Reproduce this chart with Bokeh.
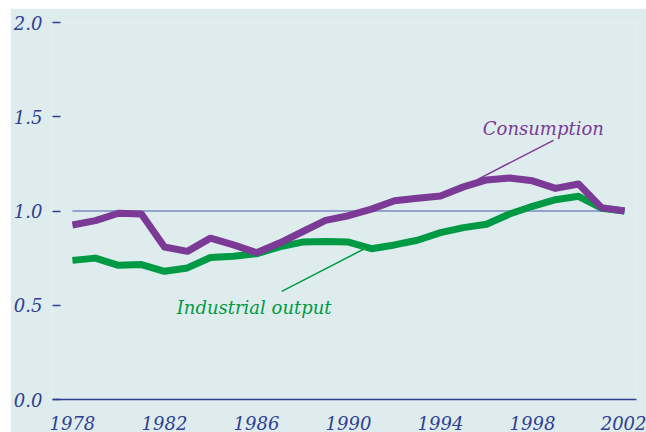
from bokeh.plotting import figure
from bokeh.models import Range1d, FixedTicker, Label, CustomJSTickFormatter
from bokeh.embed import file_html
from bokeh.resources import INLINE

years = list(range(1978, 2003))
consumption = [0.926, 0.949, 0.988, 0.984, 0.809, 0.786, 0.856, 0.820, 0.779, 0.830,
               0.890, 0.950, 0.975, 1.010, 1.054, 1.068, 1.080, 1.128, 1.165, 1.175,
               1.160, 1.120, 1.143, 1.018, 1.000]
industrial = [0.738, 0.750, 0.712, 0.716, 0.680, 0.698, 0.753, 0.760, 0.773, 0.810,
              0.835, 0.838, 0.835, 0.800, 0.820, 0.845, 0.885, 0.912, 0.930, 0.984,
              1.025, 1.060, 1.078, 1.015, 1.000]
y_ticks = [0.0, 0.5, 1.0, 1.5, 2.0]
x_ticks = [1978, 1982, 1986, 1990, 1994, 1998, 2002]

BG = "#deeced"
NAVY = "#2e3f94"
PURPLE = "#7b3a96"
GREEN = "#009a44"
FONT = "DejaVu Serif"

p = figure(width=636, height=424, output_backend="svg", toolbar_location=None,
           x_range=Range1d(1977.134, 2002.52), y_range=Range1d(0, 2.0),
           min_border_left=40, min_border_right=10, min_border_top=14, min_border_bottom=30)
p.styles = {"margin-left": "10px", "margin-top": "8px"}
p.background_fill_color = BG
p.border_fill_color = BG
p.outline_line_color = None
p.xgrid.visible = False
p.ygrid.visible = False

p.yaxis.ticker = FixedTicker(ticks=y_ticks)
p.yaxis.formatter = CustomJSTickFormatter(code="return tick.toFixed(1);")
p.yaxis.axis_line_color = None
p.yaxis.major_tick_in = 8
p.yaxis.major_tick_out = 0
p.yaxis.major_tick_line_color = NAVY
p.yaxis.major_tick_line_width = 1.5
p.yaxis.minor_tick_line_color = None
p.yaxis.major_label_standoff = 10
p.yaxis.major_label_text_font = FONT
p.yaxis.major_label_text_font_style = "italic"
p.yaxis.major_label_text_font_size = "18px"
p.yaxis.major_label_text_color = NAVY

p.xaxis.ticker = FixedTicker(ticks=x_ticks)
p.xaxis.axis_line_color = NAVY
p.xaxis.axis_line_width = 1.5
p.xaxis.major_tick_line_color = None
p.xaxis.minor_tick_line_color = None
p.xaxis.major_label_standoff = 10
p.xaxis.major_label_text_font = FONT
p.xaxis.major_label_text_font_style = "italic"
p.xaxis.major_label_text_font_size = "18px"
p.xaxis.major_label_text_color = NAVY

p.segment(x0=[years[0]], y0=[1.0], x1=[years[-1]], y1=[1.0], line_color="#4a5ab0", line_width=1.2)

p.line(years, industrial, line_color=GREEN, line_width=7, line_join="round")
p.line(years, consumption, line_color=PURPLE, line_width=7, line_join="round")

p.segment(x0=[1998.91], y0=[1.375], x1=[1995.62], y1=[1.168], line_color=PURPLE, line_width=1.5)
p.segment(x0=[1987.1], y0=[0.574], x1=[1990.78], y1=[0.805], line_color=GREEN, line_width=1.5)

p.add_layout(Label(x=1998.47, y=1.44, text="Consumption", text_align="center", text_baseline="middle",
                   text_font=FONT, text_font_style="italic", text_font_size="18px", text_color=PURPLE))
p.add_layout(Label(x=1985.9, y=0.49, text="Industrial output", text_align="center", text_baseline="middle",
                   text_font=FONT, text_font_style="italic", text_font_size="18px", text_color=GREEN))

open("out.html", "w").write(file_html(p, INLINE))
